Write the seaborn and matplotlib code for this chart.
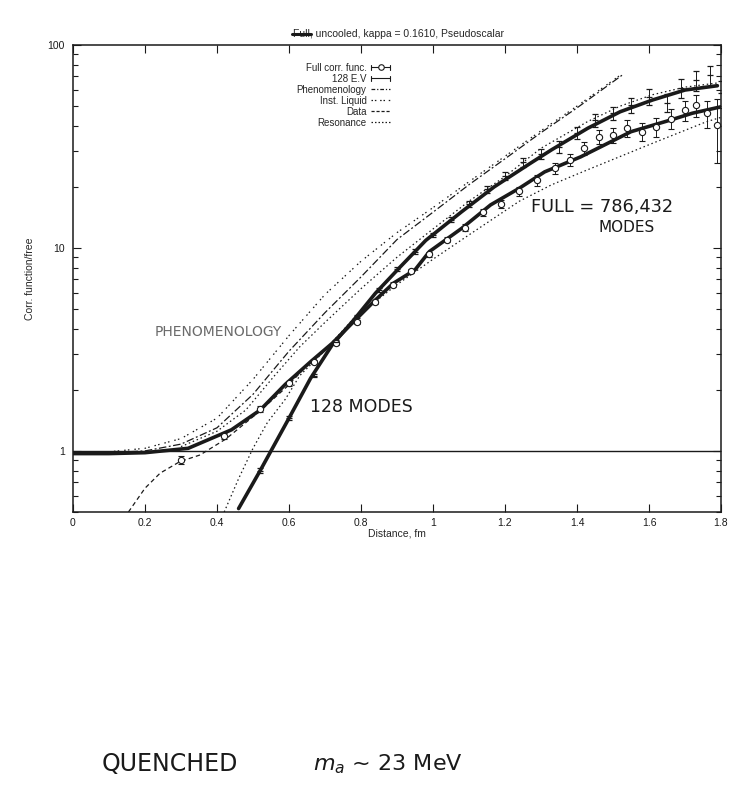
import matplotlib
matplotlib.use("Agg")
import matplotlib.pyplot as plt
import seaborn as sns
from matplotlib.lines import Line2D
from matplotlib.legend_handler import HandlerBase
from matplotlib.ticker import LogLocator, FixedLocator, FixedFormatter, NullFormatter

# thick fitted curves
full_fit_x = [0.0, 0.1, 0.2, 0.32, 0.44, 0.52, 0.59, 0.66, 0.72, 0.78, 0.84, 0.89, 0.95, 0.99,
              1.08, 1.16, 1.24, 1.31, 1.41, 1.55, 1.66, 1.72, 1.80]
full_fit_y = [0.97, 0.97, 0.98, 1.03, 1.27, 1.59, 2.13, 2.75, 3.39, 4.34, 5.54, 6.7, 7.8, 9.6,
              12.5, 16.3, 19.7, 23.7, 28.1, 37.4, 42.7, 46.1, 49.6]
ev_fit_x = [0.46, 0.52, 0.60, 0.66, 0.72, 0.78, 0.84, 0.91, 0.98, 1.08, 1.17, 1.27, 1.33, 1.43,
            1.52, 1.61, 1.70, 1.79]
ev_fit_y = [0.52, 0.80, 1.45, 2.28, 3.33, 4.42, 5.98, 8.1, 10.9, 15.1, 20.0, 26.1, 30.5, 38.9,
            46.9, 53.6, 60.0, 63.0]

# measured points with error bars
full_x = [0.30, 0.42, 0.52, 0.60, 0.67, 0.73, 0.79, 0.84, 0.89, 0.94, 0.99, 1.04, 1.09, 1.14, 1.19,
          1.24, 1.29, 1.34, 1.38, 1.42, 1.46, 1.50, 1.54, 1.58, 1.62, 1.66, 1.70, 1.73, 1.76, 1.79]
full_y = [0.90, 1.18, 1.61, 2.15, 2.75, 3.4, 4.3, 5.4, 6.6, 7.7, 9.3, 11.0, 12.6, 15.0, 16.5,
          19.0, 21.5, 24.7, 27.1, 31.0, 35.3, 36.0, 38.9, 37.3, 39.6, 43.4, 47.7, 50.5, 46.0, 40.3]
full_err = [0.04, 0.04, 0.05, 0.06, 0.07, 0.09, 0.1, 0.13, 0.16, 0.2, 0.25, 0.35, 0.45, 0.6, 0.8,
            1.0, 1.3, 1.6, 1.9, 2.3, 2.8, 3.2, 3.6, 3.8, 4.2, 4.8, 5.5, 6.2, 7.0, 14.0]
ev_x = [0.52, 0.60, 0.67, 0.73, 0.79, 0.85, 0.90, 0.95, 1.00, 1.05, 1.10, 1.15, 1.20, 1.25, 1.30,
        1.35, 1.40, 1.45, 1.50, 1.55, 1.60, 1.65, 1.69, 1.73, 1.77, 1.80]
ev_y = [0.80, 1.45, 2.35, 3.45, 4.6, 6.2, 7.9, 9.6, 11.6, 13.8, 16.4, 19.5, 22.6, 26.4, 29.0,
        31.5, 37.0, 42.6, 46.0, 50.5, 55.6, 52.0, 61.3, 67.0, 71.0, 57.8]
ev_err = [0.02, 0.03, 0.05, 0.07, 0.1, 0.14, 0.18, 0.24, 0.3, 0.4, 0.55, 0.75, 1.0, 1.3, 1.6,
          2.0, 2.5, 3.0, 3.5, 4.2, 5.0, 5.5, 6.5, 7.5, 8.0, 9.0]

# model curves
phen_x = [0.0, 0.1, 0.2, 0.3, 0.4, 0.5, 0.6, 0.7, 0.8, 0.9, 1.0, 1.1, 1.2, 1.3, 1.4, 1.53]
phen_y = [0.98, 0.98, 1.0, 1.08, 1.3, 1.9, 3.1, 4.8, 7.2, 11.0, 15.0, 20.5, 27.5, 37.0, 49.0, 72.0]
inst_x = [0.0, 0.1, 0.2, 0.3, 0.4, 0.5, 0.6, 0.7, 0.8, 0.9, 1.0, 1.1, 1.2, 1.3, 1.4, 1.52]
inst_y = [0.98, 0.99, 1.03, 1.15, 1.45, 2.25, 3.7, 5.9, 8.6, 11.9, 15.8, 21.2, 28.3, 37.8, 50.0, 71.0]
data_x = [0.154, 0.20, 0.242, 0.297, 0.353, 0.425, 0.517, 0.594, 0.66, 0.72]
data_y = [0.50, 0.655, 0.777, 0.886, 0.955, 1.146, 1.56, 2.07, 2.75, 3.39]
res_x = [0.42, 0.46, 0.50, 0.54, 0.59, 0.63, 0.69, 0.78, 0.90, 1.00, 1.10, 1.24, 1.33, 1.43,
         1.61, 1.76, 1.80]
res_y = [0.50, 0.73, 1.03, 1.38, 1.8, 2.35, 3.0, 4.5, 6.6, 8.8, 11.6, 17.0, 20.5, 24.3, 32.8,
         41.9, 44.0]
res_hi_x = [0.30, 0.40, 0.48, 0.56, 0.63, 0.70, 0.80, 0.90, 1.00, 1.10, 1.20, 1.30, 1.43, 1.52,
            1.61, 1.70, 1.79]
res_hi_y = [1.05, 1.25, 1.59, 2.35, 3.26, 4.3, 6.3, 9.0, 12.4, 17.0, 22.5, 31.0, 42.0, 50.0,
            56.9, 62.0, 65.0]

x_ticks = [0, 0.2, 0.4, 0.6, 0.8, 1.0, 1.2, 1.4, 1.6, 1.8]
x_labels = ["0", "0.2", "0.4", "0.6", "0.8", "1", "1.2", "1.4", "1.6", "1.8"]


class CapHandler(HandlerBase):
    def __init__(self, marker=None):
        super().__init__()
        self.marker = marker

    def create_artists(self, legend, orig_handle, xdescent, ydescent, width, height, fontsize, trans):
        y = height / 2 - ydescent
        x0, x1 = -xdescent, width - xdescent
        h = height * 0.35
        arts = [Line2D([x0, x1], [y, y], color="k", lw=0.8),
                Line2D([x0, x0], [y - h, y + h], color="k", lw=0.8),
                Line2D([x1, x1], [y - h, y + h], color="k", lw=0.8)]
        if self.marker:
            arts.append(Line2D([(x0 + x1) / 2], [y], marker=self.marker, ms=4, mfc="white",
                               mec="k", mew=0.8, ls=""))
        for a in arts:
            a.set_transform(trans)
        return arts


sns.set_theme(style="ticks")
plt.rcParams["font.family"] = ["Liberation Sans", "DejaVu Sans"]

fig = plt.figure(figsize=(7.46, 8), dpi=100)
ax = fig.add_axes([73 / 746, 1 - 512 / 800, 648 / 746, 467 / 800])
ax.set_yscale("log")

dotted = (0, (1.2, 2.2))
sns.lineplot(x=phen_x, y=phen_y, ax=ax, color="k", lw=0.9, linestyle=(0, (6, 2, 1.5, 2)),
             sort=False, estimator=None)
sns.lineplot(x=inst_x, y=inst_y, ax=ax, color="k", lw=0.9, linestyle=(0, (1.2, 1.8, 1.2, 4)),
             sort=False, estimator=None)
sns.lineplot(x=data_x, y=data_y, ax=ax, color="k", lw=0.9, linestyle=(0, (3.5, 2.5)),
             sort=False, estimator=None)
sns.lineplot(x=res_x, y=res_y, ax=ax, color="k", lw=0.9, linestyle=dotted,
             sort=False, estimator=None)
sns.lineplot(x=res_hi_x, y=res_hi_y, ax=ax, color="k", lw=0.9, linestyle=dotted,
             sort=False, estimator=None)

sns.lineplot(x=full_fit_x, y=full_fit_y, ax=ax, color="k", lw=2.6, sort=False, estimator=None)
sns.lineplot(x=ev_fit_x, y=ev_fit_y, ax=ax, color="k", lw=2.6, sort=False, estimator=None)

ax.errorbar(full_x, full_y, yerr=full_err, fmt="o", ms=4.5, mfc="white", mec="k", mew=0.8,
            ecolor="k", elinewidth=0.7, capsize=2.5, capthick=0.7, zorder=5)
ax.errorbar(ev_x, ev_y, yerr=ev_err, fmt="_", ms=5, mec="k", mew=0.9,
            ecolor="k", elinewidth=0.7, capsize=2.5, capthick=0.7, zorder=5)

ax.axhline(1, color="k", lw=1.0)

ax.set_xlim(0, 1.8)
ax.set_ylim(0.5, 100)
ax.xaxis.set_major_locator(FixedLocator(x_ticks))
ax.xaxis.set_major_formatter(FixedFormatter(x_labels))
ax.yaxis.set_major_locator(FixedLocator([1, 10, 100]))
ax.yaxis.set_major_formatter(FixedFormatter(["1", "10", "100"]))
ax.yaxis.set_minor_locator(LogLocator(base=10, subs=range(2, 10)))
ax.yaxis.set_minor_formatter(NullFormatter())
ax.tick_params(which="both", direction="in", top=True, right=True, labelsize=7.5, colors="k")
ax.tick_params(which="major", length=6, width=0.8, pad=6)
ax.tick_params(axis="x", which="major", pad=4)
ax.tick_params(which="minor", length=3.5, width=0.8)
for s in ax.spines.values():
    s.set_linewidth(1.1)
    s.set_color("k")

ax.set_xlabel("Distance, fm", fontsize=7.5, labelpad=1)
ax.set_ylabel("Corr. function/free", fontsize=7.5, labelpad=9)

title = ax.text(0.503, 1.012, "Full, uncooled, kappa = 0.1610, Pseudoscalar", transform=ax.transAxes,
                ha="center", va="bottom", fontsize=7.5)

# legend in gnuplot style: text first, sample after
h_full = Line2D([], [])
h_ev = Line2D([], [])
h_phen = Line2D([], [], color="k", lw=0.9, linestyle=(0, (3, 1.5, 1, 1.5)))
h_inst = Line2D([], [], color="k", lw=0.9, linestyle=(0, (1.2, 1.5, 1.2, 3)))
h_data = Line2D([], [], color="k", lw=0.9, linestyle=(0, (2.5, 1.5)))
h_res = Line2D([], [], color="k", lw=0.9, linestyle=(0, (1.2, 1.6)))
ax.legend([h_full, h_ev, h_phen, h_inst, h_data, h_res],
          ["Full corr. func.", "128 E.V", "Phenomenology", "Inst. Liquid", "Data", "Resonance"],
          handler_map={h_full: CapHandler("o"), h_ev: CapHandler()},
          loc="upper right", bbox_to_anchor=(0.489, 0.962), frameon=False, markerfirst=False,
          fontsize=7, handlelength=1.9, handletextpad=0.5, labelspacing=0.1,
          borderpad=0, borderaxespad=0)

# handwritten notes
hand = dict(color="k", family="DejaVu Sans")
fig.text(155 / 746, 1 - 332 / 800, "PHENOMENOLOGY", fontsize=10, color="#6a6a6a",
         va="center", family="DejaVu Sans")
fig.text(310 / 746, 1 - 407 / 800, "128 MODES", fontsize=12.5, va="center", **hand)
fig.text(531 / 746, 1 - 207 / 800, "FULL = 786,432", fontsize=12.8, va="center", **hand)
fig.text(598 / 746, 1 - 228 / 800, "MODES", fontsize=11, va="center", **hand)
fig.text(102 / 746, 1 - 764 / 800, "QUENCHED", fontsize=17, va="center", **hand)
fig.text(313 / 746, 1 - 764 / 800, r"$m_a$ ~ 23 MeV", fontsize=16, va="center", **hand)

# strike through "Full" in the title
fig.canvas.draw()
r = fig.canvas.get_renderer()
bb = title.get_window_extent(r)
tmp = fig.text(0, 0, "Full", fontsize=7.5)
w = tmp.get_window_extent(r).width
tmp.remove()
inv = fig.transFigure.inverted()
p0 = inv.transform((bb.x0 - 1, bb.y0 + bb.height * 0.55))
p1 = inv.transform((bb.x0 + w + 1, bb.y0 + bb.height * 0.55))
fig.add_artist(Line2D([p0[0], p1[0]], [p0[1], p1[1]], color="k", lw=2.2, transform=fig.transFigure))

fig.savefig("out.png", dpi=100)
